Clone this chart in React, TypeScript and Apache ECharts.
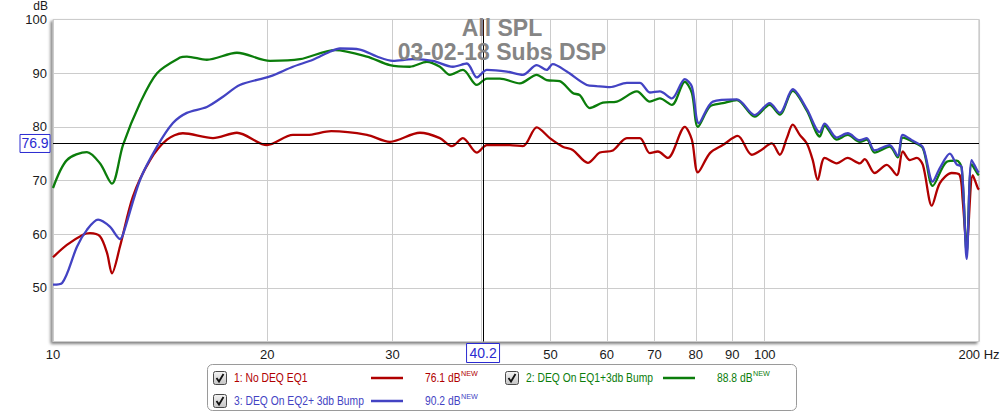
import React, { useEffect, useRef } from "react";
import * as echarts from "echarts";

// ---- data: [frequency Hz, SPL dB] ----
const RED: [number, number][] = [
  [10, 55.7], [10.46, 58.0], [11.02, 59.9], [11.27, 60.2], [11.64, 59.6], [11.91, 56.5], [12.1, 52.7],
  [12.42, 57.7], [12.95, 67.0], [13.69, 73.8], [14.46, 77.6], [15.22, 78.8], [16.78, 77.9], [18.13, 78.9],
  [19.98, 76.6], [21.73, 78.5], [22.74, 78.5], [24.6, 79.2], [27.61, 78.5], [29.74, 77.2], [32.77, 78.9],
  [34.96, 77.9], [36.35, 76.4], [37.66, 77.9], [39.4, 75.2], [40.7, 76.6], [43.84, 76.6], [45.72, 76.4],
  [47.83, 79.9], [49.89, 77.9], [52.02, 76.3], [53.73, 75.7], [56.42, 73.3], [58.66, 75.2], [61.18, 75.6],
  [64.02, 77.9], [66.76, 77.9], [68.96, 75.1], [70.76, 75.4], [73.09, 74.2], [77.22, 80.0], [79.0, 77.6],
  [80.56, 71.5], [83.75, 75.1], [87.3, 76.6], [91.65, 78.3], [95.87, 74.8], [98.4, 75.5], [102.3, 76.9],
  [105.0, 74.8], [107.4, 77.9], [109.5, 80.4], [112.0, 78.5], [114.6, 76.9], [116.8, 73.8], [118.7, 70.1],
  [121.4, 74.2], [126.2, 73.2], [130.8, 74.2], [136.0, 73.2], [138.2, 74.0], [142.7, 71.4], [148.4, 72.9],
  [153.3, 71.0], [156.3, 75.4], [159.9, 73.8], [163.6, 74.2], [166.8, 72.9], [171.7, 65.3], [176.2, 69.5],
  [183.1, 71.4], [187.9, 71.0], [189.7, 66.4], [192.2, 58.0], [196.0, 71.0], [199.2, 68.6], [200, 68.3],
];
const GREEN: [number, number][] = [
  [10, 68.6], [10.46, 73.8], [11.16, 75.3], [11.64, 73.2], [12.1, 69.4], [12.54, 76.6], [13.25, 84.4],
  [14.0, 90.0], [15.08, 92.9], [15.42, 93.1], [16.45, 92.5], [18.13, 93.8], [20.18, 92.3], [22.23, 92.6],
  [24.9, 94.3], [27.61, 93.1], [29.74, 91.5], [31.72, 91.2], [33.52, 92.1], [34.96, 91.2], [36.11, 89.7],
  [37.66, 90.6], [39.4, 87.8], [40.7, 89.0], [42.45, 89.0], [45.28, 88.1], [47.83, 89.7], [49.39, 88.7],
  [51.52, 88.5], [53.73, 86.3], [54.97, 85.9], [56.78, 83.5], [59.23, 84.5], [61.98, 84.7], [66.12, 86.6],
  [68.96, 84.7], [71.22, 85.3], [74.05, 84.1], [77.22, 88.4], [79.0, 86.3], [80.56, 80.0], [83.75, 83.8],
  [87.3, 84.4], [91.35, 85.0], [96.82, 81.9], [101.6, 84.1], [105.0, 82.3], [109.5, 86.7], [114.6, 83.0],
  [119.5, 78.2], [121.4, 80.2], [126.2, 77.6], [130.8, 78.5], [136.0, 77.2], [139.1, 77.6], [142.7, 75.2],
  [149.8, 76.3], [153.8, 74.3], [156.3, 78.0], [161.5, 77.2], [166.8, 76.0], [172.2, 69.0], [180.2, 73.5],
  [186.1, 73.7], [189.1, 72.3], [192.2, 56.5], [195.3, 73.0], [199.2, 71.2], [200, 71.0],
];
const BLUE: [number, number][] = [
  [10, 50.6], [10.3, 50.9], [10.81, 57.7], [11.16, 60.8], [11.57, 62.7], [12.02, 61.4], [12.42, 59.1],
  [12.54, 59.9], [13.25, 70.1], [14.0, 76.3], [14.74, 80.7], [15.42, 82.6], [16.45, 83.7], [17.33, 85.6],
  [18.3, 87.8], [20.18, 89.4], [21.73, 91.2], [23.19, 92.5], [24.49, 94.0], [25.3, 94.6], [26.99, 94.4],
  [28.52, 93.1], [30.03, 92.3], [32.03, 92.6], [34.18, 92.3], [36.46, 91.2], [38.15, 91.8], [39.4, 89.2],
  [40.7, 90.6], [43.42, 90.3], [45.72, 89.7], [47.83, 91.5], [49.39, 90.6], [50.37, 91.7], [52.7, 90.3],
  [56.23, 87.8], [58.0, 87.6], [60.59, 87.4], [64.02, 88.2], [66.76, 88.2], [68.96, 86.4], [71.22, 86.6],
  [74.05, 85.3], [77.22, 88.9], [79.0, 87.5], [80.82, 80.7], [84.56, 84.7], [91.35, 85.1], [96.82, 82.2],
  [101.6, 84.4], [105.0, 82.6], [109.5, 87.0], [114.6, 83.3], [119.5, 79.0], [121.4, 80.6], [126.2, 78.0],
  [130.8, 78.8], [136.0, 77.5], [139.1, 77.9], [142.7, 75.6], [149.8, 76.6], [153.8, 74.6], [156.3, 78.5],
  [161.5, 77.4], [166.8, 76.2], [172.2, 69.8], [176.2, 72.3], [182.0, 75.0], [186.1, 73.0], [189.1, 72.5],
  [192.2, 55.4], [195.3, 73.8], [199.2, 71.7], [200, 71.5],
];

const FREQ_GRID = [10, 20, 30, 40, 50, 60, 70, 80, 90, 100, 200];
const FREQ_LABELS = [10, 20, 30, 50, 60, 70, 80, 90, 100, 200];
const DB_MIN = 40;
const DB_MAX = 100;
const DB_STEP = 10;

const CURSOR_FREQ = 40.2;
const CURSOR_DB = 76.9;

const TITLE_LINES = ["All SPL", "03-02-18 Subs DSP"];
const SERIES_NAMES = ["1: No DEQ EQ1", "2: DEQ On EQ1+3db Bump", "3: DEQ On EQ2+ 3db Bump"];
const SERIES_COLORS = ["#b00000", "#0b7d0b", "#4343c3"];
const CURSOR_VALUES = ["76.1 dB", "88.8 dB", "90.2 dB"];

const FONT = "'Liberation Sans', Arial, sans-serif";

export default function App() {
  const ref = useRef<HTMLDivElement>(null);
  useEffect(() => {
    const chart = echarts.init(ref.current!, null, { renderer: "svg" });
    const datasets = [RED, GREEN, BLUE];
    chart.setOption({
      animation: false,
      backgroundColor: "#ffffff",
      grid: {
        left: 53, right: 26, top: 19.5, bottom: 73.5, show: true,
        borderColor: "#b8b8b8", borderWidth: 1, backgroundColor: "#ffffff",
        shadowColor: "rgba(0,0,0,0.5)", shadowBlur: 3, shadowOffsetX: -2, shadowOffsetY: 2,
      },
      xAxis: {
        type: "log", logBase: 10, min: 10, max: 200,
        axisLine: { show: false },
        axisTick: { show: false, customValues: FREQ_GRID },
        axisLabel: {
          customValues: FREQ_LABELS,
          formatter: (v: number) => (Math.round(v) === 200 ? "200 Hz" : String(Math.round(v))),
          color: "#1a1a1a", fontSize: 13, fontFamily: FONT, margin: 6,
        },
        splitLine: { show: true, lineStyle: { color: "#cccccc", width: 1 } },
        minorSplitLine: { show: false },
      },
      yAxis: {
        type: "value", min: DB_MIN, max: DB_MAX, interval: DB_STEP,
        axisLine: { show: false }, axisTick: { show: false },
        axisLabel: { showMinLabel: false, color: "#1a1a1a", fontSize: 13, fontFamily: FONT, margin: 6 },
        splitLine: { show: true, lineStyle: { color: "#cccccc", width: 1 } },
      },
      series: datasets.map((d, i) => ({
        type: "line",
        name: SERIES_NAMES[i],
        data: d,
        showSymbol: false,
        smooth: 0.3,
        lineStyle: { color: SERIES_COLORS[i], width: 2.3 },
        itemStyle: { color: SERIES_COLORS[i] },
        z: 3 + i,
        markLine: i === 0 ? {
          silent: true, symbol: "none", animation: false,
          label: { show: false },
          lineStyle: { color: "#000000", width: 1, type: "solid" },
          data: [{ xAxis: CURSOR_FREQ }, { yAxis: CURSOR_DB }],
        } : undefined,
      })),
    });

    const [cx, cy] = chart.convertToPixel({ gridIndex: 0 }, [CURSOR_FREQ, CURSOR_DB]) as number[];
    const gridBottom = 415 - 73.5;

    const graphics: any[] = [];
    // dB axis name
    graphics.push({ type: "text", x: 48, y: 6, z: 50,
      style: { text: "dB", fill: "#1a1a1a", font: `12px ${FONT}`, textAlign: "right", textVerticalAlign: "middle" } });
    // title
    TITLE_LINES.forEach((t, i) => graphics.push({
      type: "text", x: 502, y: 28 + i * 24, z: 60,
      style: { text: t, fill: "#858585", font: `bold 23px ${FONT}`, textAlign: "center", textVerticalAlign: "middle" },
    }));
    // cursor boxes
    graphics.push({ type: "rect", z: 50, shape: { x: cx - 16.5, y: gridBottom + 2, width: 33, height: 19 },
      style: { fill: "#ffffff", stroke: "#2a2ad0", lineWidth: 1 } });
    graphics.push({ type: "text", z: 51, x: cx, y: gridBottom + 11.5,
      style: { text: String(CURSOR_FREQ), fill: "#2a2ad0", font: `14px ${FONT}`, textAlign: "center", textVerticalAlign: "middle" } });
    graphics.push({ type: "rect", z: 50, shape: { x: 20, y: cy - 9, width: 30, height: 18 },
      style: { fill: "#ffffff", stroke: "#2a2ad0", lineWidth: 1 } });
    graphics.push({ type: "text", z: 51, x: 35, y: cy,
      style: { text: String(CURSOR_DB), fill: "#2a2ad0", font: `14px ${FONT}`, textAlign: "center", textVerticalAlign: "middle" } });

    // legend box
    graphics.push({ type: "rect", z: 40, shape: { x: 207.5, y: 364.5, width: 589, height: 46, r: 5 },
      style: { fill: "#ffffff", stroke: "#9a9a9a", lineWidth: 1 } });
    const slots = [
      { x: 213, y: 378 },
      { x: 505, y: 378 },
      { x: 213, y: 401 },
    ];
    slots.forEach((s, i) => {
      const color = SERIES_COLORS[i];
      graphics.push({ type: "rect", z: 41, shape: { x: s.x + 0.5, y: s.y - 6.5, width: 13, height: 13, r: 2 },
        style: {
          fill: new echarts.graphic.LinearGradient(0, 0, 0, 1, [
            { offset: 0, color: "#f4f4f4" }, { offset: 1, color: "#c4c4c4" },
          ]),
          stroke: "#4a4a4a", lineWidth: 1,
        } });
      graphics.push({ type: "polyline", z: 42,
        shape: { points: [[s.x + 3.5, s.y], [s.x + 6, s.y + 3.5], [s.x + 10.5, s.y - 4]] },
        style: { stroke: "#111111", lineWidth: 1.8, fill: "none" } });
      graphics.push({ type: "text", z: 41, x: s.x + 21, y: s.y, scaleX: 0.86,
        style: { text: SERIES_NAMES[i], fill: color, font: `12px ${FONT}`, textVerticalAlign: "middle" } });
      graphics.push({ type: "line", z: 41, shape: { x1: s.x + 158, y1: s.y, x2: s.x + 190, y2: s.y },
        style: { stroke: color, lineWidth: 2.5 } });
      graphics.push({ type: "text", z: 41, x: s.x + 212, y: s.y, scaleX: 0.86,
        style: { text: CURSOR_VALUES[i], fill: color, font: `12px ${FONT}`, textVerticalAlign: "middle" } });
      graphics.push({ type: "text", z: 41, x: s.x + 248, y: s.y - 5, scaleX: 0.9,
        style: { text: "NEW", fill: color, font: `8px ${FONT}`, textVerticalAlign: "middle" } });
    });

    chart.setOption({ graphic: graphics });

    return () => chart.dispose();
  }, []);
  return (
    <div
      ref={ref}
      style={{ position: "fixed", left: 0, top: 0, width: 1005, height: 415, background: "#fff" }}
    />
  );
}
